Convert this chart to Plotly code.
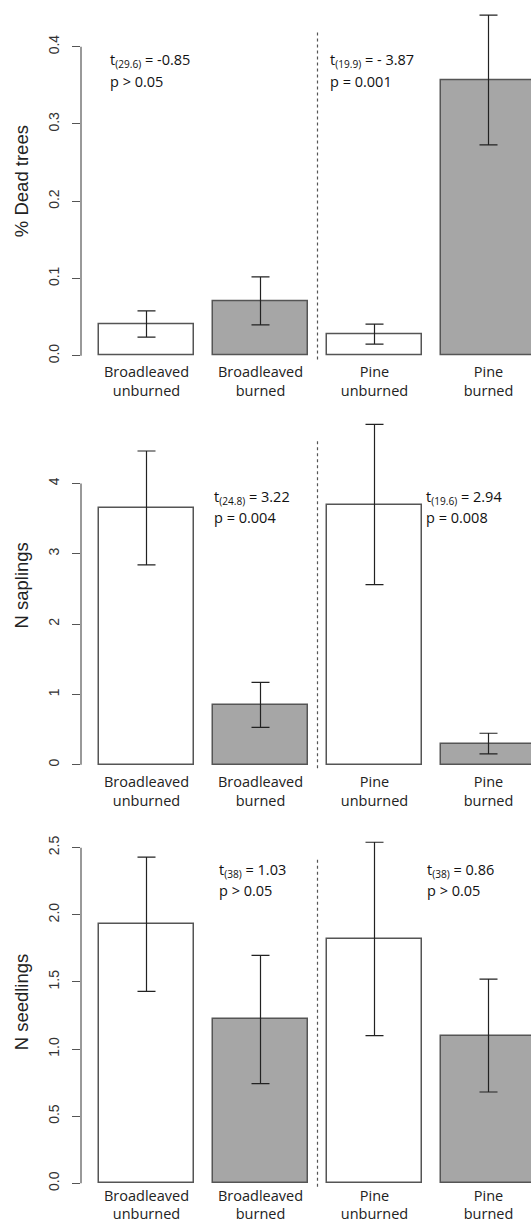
import plotly.graph_objects as go

# ---------------- data ----------------
categories = ["Broadleaved<br>unburned", "Broadleaved<br>burned", "Pine<br>unburned", "Pine<br>burned"]
bar_x = [0.7, 1.9, 3.1, 4.3]
burned_flag = [False, True, False, True]

dead_mean = [0.041, 0.071, 0.028, 0.357]
dead_err = [0.017, 0.031, 0.013, 0.084]

sapl_mean = [3.65, 0.85, 3.70, 0.30]
sapl_err = [0.81, 0.32, 1.14, 0.147]

seed_mean = [1.93, 1.22, 1.82, 1.10]
seed_err = [0.50, 0.478, 0.72, 0.42]

dead_ticks = [0.0, 0.1, 0.2, 0.3, 0.4]
dead_ticktext = ["0.0", "0.1", "0.2", "0.3", "0.4"]
sapl_ticks = [0, 1, 2, 3, 4]
sapl_ticktext = ["0", "1", "2", "3", "4"]
seed_ticks = [0.0, 0.5, 1.0, 1.5, 2.0, 2.5]
seed_ticktext = ["0.0", "0.5", "1.0", "1.5", "2.0", "2.5"]

y_titles = ["% Dead trees", "N saplings", "N seedlings"]

stats_left = [("t<sub>(29.6)</sub> = -0.85", "p > 0.05"),
              ("t<sub>(24.8)</sub> = 3.22", "p = 0.004"),
              ("t<sub>(38)</sub> = 1.03", "p > 0.05")]
stats_right = [("t<sub>(19.9)</sub> = - 3.87", "p = 0.001"),
               ("t<sub>(19.6)</sub> = 2.94", "p = 0.008"),
               ("t<sub>(38)</sub> = 0.86", "p > 0.05")]

# ---------------- layout helpers ----------------
H = 1224
W = 531
LEFT = 81
# per panel: pixel of y=0, px per unit, y range
panels = [
    dict(px0=355.7, s=772.5, lo=-0.008, hi=0.46, dash=(-0.005, 0.419),
         ann_y=(0.3815, 0.3556), ann_x=(0.295, 2.61), xstand=0),
    dict(px0=764.7, s=70.33, lo=-0.1, hi=5.2, dash=(-0.05, 4.627),
         ann_y=(3.806, 3.508), ann_x=(1.389, 3.624), xstand=0),
    dict(px0=1183.3, s=134.27, lo=-0.05, hi=2.75, dash=(-0.025, 2.415),
         ann_y=(2.326, 2.177), ann_x=(1.445, 3.635), xstand=-5),
]
x_range = [0.2 - (99 - LEFT) / 95.0, 0.2 - (99 - LEFT) / 95.0 + (W - LEFT) / 95.0]

means = [dead_mean, sapl_mean, seed_mean]
errs = [dead_err, sapl_err, seed_err]
ticks = [(dead_ticks, dead_ticktext), (sapl_ticks, sapl_ticktext), (seed_ticks, seed_ticktext)]

fig = go.Figure()
AX_COL = "#555555"
TXT_FONT = "Open Sans"
AX_FONT = "Liberation Sans"

for i, p in enumerate(panels):
    n = "" if i == 0 else str(i + 1)
    xa, ya = "x" + n, "y" + n
    colors = ["#a6a6a6" if b else "#ffffff" for b in burned_flag]
    fig.add_trace(go.Bar(
        x=bar_x, y=means[i], width=1.0, xaxis=xa, yaxis=ya,
        marker=dict(color=colors, line=dict(color=AX_COL, width=1.5)),
        error_y=dict(type="data", array=errs[i], visible=True,
                     color="#222222", thickness=1.2, width=9),
        showlegend=False, hoverinfo="skip"))
    bottom = 1 - (p["px0"] - p["lo"] * p["s"]) / H
    top = 1 - (p["px0"] - p["hi"] * p["s"]) / H
    tv, tt = ticks[i]
    fig.update_layout(**{
        ("xaxis" + n): dict(domain=[0, 1], range=x_range, anchor=ya, automargin=False,
                            tickvals=bar_x, ticktext=categories, ticks="",
                            ticklabelstandoff=p["xstand"],
                            showline=False, showgrid=False, zeroline=False,
                            tickfont=dict(family=TXT_FONT, size=14.5, color="#222222")),
        ("yaxis" + n): dict(domain=[bottom, top], range=[p["lo"], p["hi"]], anchor=xa,
                            automargin=False, ticklabelstandoff=7,
                            tickvals=tv, ticktext=tt, ticks="outside", ticklen=8,
                            tickcolor=AX_COL, tickwidth=1.2, tickangle=-90,
                            showline=False, showgrid=False, zeroline=False,
                            tickfont=dict(family=AX_FONT, size=14, color="#333333"),
                            title=dict(text=y_titles[i], standoff=12,
                                       font=dict(family=AX_FONT, size=18.5, color="#222222"))),
    })
    # y axis line spanning the tick range only
    fig.add_shape(type="line", xref=xa + " domain", yref=ya, x0=0, x1=0,
                  y0=tv[0], y1=tv[-1], line=dict(color=AX_COL, width=1.2))
    # dotted separator
    fig.add_shape(type="line", xref=xa, yref=ya, x0=2.5, x1=2.5,
                  y0=p["dash"][0], y1=p["dash"][1],
                  line=dict(color="#555555", width=1.2, dash="dot"))
    for (l1, l2), ax in zip([stats_left[i], stats_right[i]], p["ann_x"]):
        for txt, yy in zip([l1, l2], p["ann_y"]):
            fig.add_annotation(x=ax, y=yy, xref=xa, yref=ya, text=txt,
                               showarrow=False, xanchor="left", yanchor="middle",
                               font=dict(family=TXT_FONT, size=14.5, color="#111111"))

fig.update_layout(width=W, height=H, margin=dict(l=LEFT, r=0, t=0, b=0, autoexpand=False),
                  plot_bgcolor="white", paper_bgcolor="white", bargap=0)
fig.write_html("out.html", config={"displayModeBar": False},
               post_script="document.body.style.margin='0';document.body.style.overflow='hidden';")
